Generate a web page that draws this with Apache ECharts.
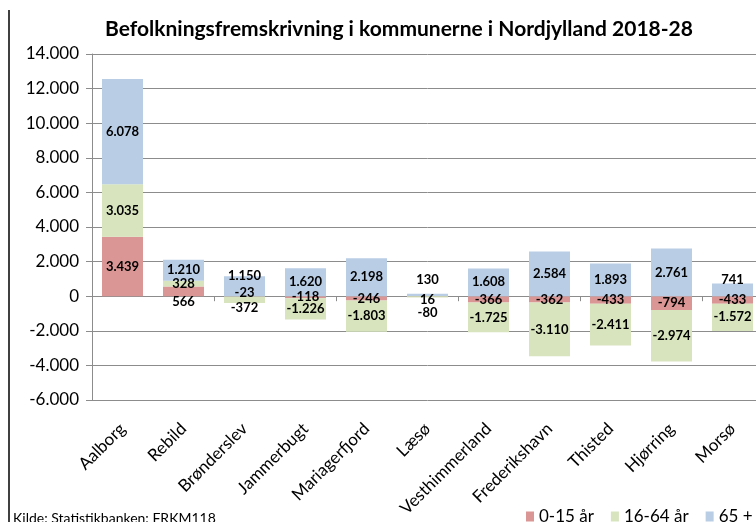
<!DOCTYPE html>
<html>
<head>
<meta charset="utf-8">
<script src="https://cdn.jsdelivr.net/npm/echarts@6/dist/echarts.min.js"></script>
<style>
html,body{margin:0;padding:0;overflow:hidden;background:#fff;width:756px;height:522px;}
#chart{width:763px;height:522px;}
</style>
</head>
<body>
<div id="chart"></div>
<script>
var categories = ['Aalborg','Rebild','Brønderslev','Jammerbugt','Mariagerfjord','Læsø','Vesthimmerland','Frederikshavn','Thisted','Hjørring','Morsø'];
var age0_15 = [3439, 566, -23, -118, -246, 16, -366, -362, -433, -794, -433];
var age16_64 = [3035, 328, -372, -1226, -1803, -80, -1725, -3110, -2411, -2974, -1572];
var age65 = [6078, 1210, 1150, 1620, 2198, 130, 1608, 2584, 1893, 2761, 741];
var seriesNames = ['0-15 år', '16-64 år', '65 +'];
var yTicks = [-6000, -4000, -2000, 0, 2000, 4000, 6000, 8000, 10000, 12000, 14000];

// label nudges (pixels, vertical) for crowded small segments: [seriesIndex|categoryIndex]
var labelNudge = {
  '0|1': 11, '2|2': -10, '0|2': -4, '1|2': 8,
  '2|5': -15, '0|5': 4, '1|5': 16, '2|10': -10
};

var colors = ['#D99694', '#D7E4BD', '#B9CDE5'];
var FONT = 'Lato, "Liberation Sans", sans-serif';

function fmt(v) {
  var s = Math.abs(Math.round(v)).toString().replace(/\B(?=(\d{3})+(?!\d))/g, '.');
  return (v < 0 ? '-' : '') + s;
}

function buildSeries(arr, si) {
  return {
    name: seriesNames[si],
    type: 'bar',
    stack: 'total',
    barWidth: 41,
    xAxisIndex: 0,
    itemStyle: { color: colors[si] },
    label: {
      show: true,
      position: 'inside',
      color: '#000',
      fontFamily: FONT,
      fontWeight: 'bold',
      fontSize: 13,
      formatter: function (p) { return fmt(p.value); }
    },
    data: arr.map(function (v, ci) {
      var n = labelNudge[si + '|' + ci];
      if (n !== undefined) {
        return { value: v, label: { offset: [0, n] } };
      }
      return v;
    })
  };
}

var chart = echarts.init(document.getElementById('chart'), null, { renderer: 'canvas' });
chart.setOption({
  animation: false,
  title: {
    text: 'Befolkningsfremskrivning i kommunerne i Nordjylland 2018-28',
    left: 100,
    top: 14,
    textStyle: { fontFamily: FONT, fontWeight: 'bold', fontSize: 21, color: '#000' }
  },
  legend: {
    data: seriesNames,
    left: 521,
    top: 503,
    icon: 'rect',
    itemWidth: 8,
    itemHeight: 10,
    itemGap: 17,
    textStyle: { fontFamily: FONT, fontSize: 17, color: '#000' }
  },
  graphic: [
    { type: 'line', shape: { x1: 9, y1: 10, x2: 9, y2: 522 }, style: { stroke: '#000', lineWidth: 1.5 } },
    { type: 'text', left: 13, top: 511, style: { text: 'Kilde: Statistikbanken: FRKM118', fontFamily: FONT, fontSize: 14, fill: '#000' } }
  ],
  grid: { left: 92, right: 0, top: 54, bottom: 122, containLabel: false },
  xAxis: [
    {
      type: 'category',
      data: categories,
      position: 'bottom',
      axisLine: { show: false, onZero: false },
      axisTick: { show: false },
      axisLabel: { rotate: 45, margin: 26, fontFamily: FONT, fontSize: 17, color: '#000', interval: 0 }
    },
    {
      type: 'category',
      data: categories,
      position: 'top',
      axisLine: { show: true, onZero: true, lineStyle: { color: '#8c8c8c', width: 1 } },
      axisTick: { show: true, inside: true, length: 5, lineStyle: { color: '#8c8c8c' } },
      axisLabel: { show: false },
      splitLine: { show: false }
    }
  ],
  yAxis: {
    type: 'value',
    min: yTicks[0],
    max: yTicks[yTicks.length - 1],
    interval: 2000,
    axisLine: { show: true, lineStyle: { color: '#8c8c8c' } },
    axisTick: { show: true, length: 6, lineStyle: { color: '#8c8c8c' } },
    splitLine: { show: true, lineStyle: { color: '#8c8c8c', width: 1 } },
    axisLabel: { fontFamily: FONT, fontSize: 17, color: '#000', margin: 13, formatter: function (v) { return fmt(v); } }
  },
  series: [buildSeries(age0_15, 0), buildSeries(age16_64, 1), buildSeries(age65, 2)]
});
</script>
</body>
</html>
